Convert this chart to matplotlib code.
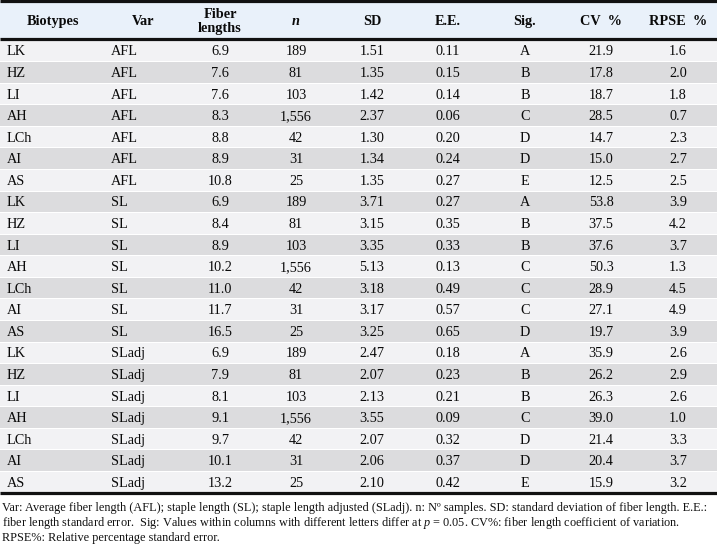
import matplotlib
matplotlib.use("Agg")
import matplotlib.pyplot as plt
from matplotlib.patches import Rectangle

plt.rcParams['font.family'] = ['Liberation Serif', 'DejaVu Serif']
plt.rcParams['mathtext.fontset'] = 'custom'
plt.rcParams['mathtext.rm'] = 'Liberation Serif'
plt.rcParams['mathtext.it'] = 'Liberation Serif:italic'

# ---- data ----
biotypes = ["LK", "HZ", "LI", "AH", "LCh", "AI", "AS"] * 3
variables = ["AFL"] * 7 + ["SL"] * 7 + ["SLadj"] * 7
fiber_lengths = [6.9, 7.6, 7.6, 8.3, 8.8, 8.9, 10.8,
                 6.9, 8.4, 8.9, 10.2, 11.0, 11.7, 16.5,
                 6.9, 7.9, 8.1, 9.1, 9.7, 10.1, 13.2]
n_samples = [189, 81, 103, 1556, 42, 31, 25] * 3
sd = [1.51, 1.35, 1.42, 2.37, 1.30, 1.34, 1.35,
      3.71, 3.15, 3.35, 5.13, 3.18, 3.17, 3.25,
      2.47, 2.07, 2.13, 3.55, 2.07, 2.06, 2.10]
ee = [0.11, 0.15, 0.14, 0.06, 0.20, 0.24, 0.27,
      0.27, 0.35, 0.33, 0.13, 0.49, 0.57, 0.65,
      0.18, 0.23, 0.21, 0.09, 0.32, 0.37, 0.42]
sig = ["A", "B", "B", "C", "D", "D", "E",
       "A", "B", "B", "C", "C", "C", "D",
       "A", "B", "B", "C", "D", "D", "E"]
cv = [21.9, 17.8, 18.7, 28.5, 14.7, 15.0, 12.5,
      53.8, 37.5, 37.6, 50.3, 28.9, 27.1, 19.7,
      35.9, 26.2, 26.3, 39.0, 21.4, 20.4, 15.9]
rpse = [1.6, 2.0, 1.8, 0.7, 2.3, 2.7, 2.5,
        3.9, 4.2, 3.7, 1.3, 4.5, 4.9, 3.9,
        2.6, 2.9, 2.6, 1.0, 3.3, 3.7, 3.2]
headers = ["Biotypes", "Var", "Fiber\nlengths", "n", "SD", "E.E.", "Sig.", "CV  %", "RPSE  %"]
footnote = [
    "Var: Average fiber length (AFL); staple length (SL); staple length adjusted (SLadj). n: N\u00ba samples. SD: standard deviation of fiber length. E.E.:",
    "fiber length standard error.  Sig: Values within columns with different letters differ at $p$ = 0.05. CV%: fiber length coefficient of variation.",
    "RPSE%: Relative percentage standard error.",
]

# ---- layout (pixel units) ----
W, H = 717, 545
fig = plt.figure(figsize=(W / 100, H / 100), dpi=100)
ax = fig.add_axes([0, 0, 1, 1])
ax.set_xlim(0, W)
ax.set_ylim(H, 0)
ax.axis("off")

header_top, header_bot = 1, 39
body_top, body_bot = 40, 493
nrows = len(biotypes)
rh = (body_bot - body_top) / nrows

col_x = [7, 111, 220, 296, 372, 448, 525, 601, 678]
col_ha = ["left", "left", "center", "center", "center", "center", "center", "center", "center"]
head_x = [53, 143, 220, 296, 372, 448, 525, 601, 678]

ax.add_patch(Rectangle((0, header_top), W, header_bot - header_top, facecolor="#e9f1fa", edgecolor="none"))
for i in range(nrows):
    y0 = body_top + i * rh
    fc = "#f2f2f4" if i % 2 == 0 else "#dcdcde"
    ax.add_patch(Rectangle((0, y0 + 0.5), W, rh - 1.0, facecolor=fc, edgecolor="none"))

for yl in (header_top, header_bot, body_bot):
    ax.plot([0, W], [yl, yl], color="#111111", lw=2.3, solid_capstyle="butt")

fs = 10.3
for j, h in enumerate(headers):
    style = "italic" if h == "n" else "normal"
    ax.text(head_x[j], 21.5, h, ha="center", va="center", fontsize=fs, fontweight="bold",
            fontstyle=style, color="#0a0a0a", linespacing=1.05)

for i in range(nrows):
    yc = body_top + (i + 0.5) * rh + 1.2
    row = [biotypes[i], variables[i], f"{fiber_lengths[i]:.1f}", f"{n_samples[i]:,}",
           f"{sd[i]:.2f}", f"{ee[i]:.2f}", sig[i], f"{cv[i]:.1f}", f"{rpse[i]:.1f}"]
    for j, val in enumerate(row):
        ax.text(col_x[j], yc, val, ha=col_ha[j], va="center", fontsize=fs, color="#0a0a0a")

for k, line in enumerate(footnote):
    ax.text(2, 507.5 + k * 15.3, line, ha="left", va="center", fontsize=8.8, color="#111111")

fig.savefig("out.png", dpi=100)
